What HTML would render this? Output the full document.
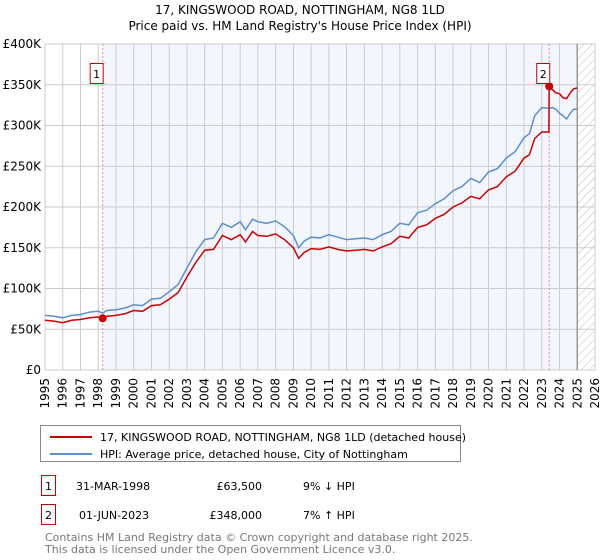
<!DOCTYPE html>
<html><head><meta charset="utf-8"><style>
body{margin:0;background:#fff;font-family:"DejaVu Sans","Liberation Sans",sans-serif;}
svg{display:block}
</style></head><body>
<svg width="600" height="560" xmlns="http://www.w3.org/2000/svg">
<defs><pattern id="hatch" width="6" height="6" patternUnits="userSpaceOnUse" patternTransform="rotate(45)"><line x1="0" y1="0" x2="0" y2="6" stroke="#bbb" stroke-width="1"/></pattern></defs>
<text x="300" y="14" text-anchor="middle" font-size="12">17, KINGSWOOD ROAD, NOTTINGHAM, NG8 1LD</text>
<text x="300" y="30" text-anchor="middle" font-size="12">Price paid vs. HM Land Registry's House Price Index (HPI)</text>
<g id="plot"></g>
<g>
<rect x="40.5" y="425.5" width="420" height="36" fill="#fff" stroke="#888"/>
<line x1="50" y1="437" x2="92" y2="437" stroke="#cc0000" stroke-width="2"/>
<text x="100" y="441" font-size="11">17, KINGSWOOD ROAD, NOTTINGHAM, NG8 1LD (detached house)</text>
<line x1="50" y1="454" x2="92" y2="454" stroke="#5b8fd0" stroke-width="2"/>
<text x="100" y="458" font-size="11">HPI: Average price, detached house, City of Nottingham</text>
</g>
<g font-size="11">
<rect x="41.5" y="475.5" width="14" height="20" fill="#fff" stroke="#cc0000"/>
<text x="48.5" y="490" text-anchor="middle">1</text>
<text x="76" y="490">31-MAR-1998</text>
<text x="262" y="490" text-anchor="end">£63,500</text>
<text x="303" y="490">9% ↓ HPI</text>
<rect x="41.5" y="504.5" width="14" height="20" fill="#fff" stroke="#cc0000"/>
<text x="48.5" y="519" text-anchor="middle">2</text>
<text x="79" y="519">01-JUN-2023</text>
<text x="262" y="519" text-anchor="end">£348,000</text>
<text x="303" y="519">7% ↑ HPI</text>
</g>
<text x="45" y="541" font-size="11" fill="#777">Contains HM Land Registry data © Crown copyright and database right 2025.</text>
<text x="45" y="553" font-size="11" fill="#777">This data is licensed under the Open Government Licence v3.0.</text>
</svg>
<script>
const years=[1995,1995.5,1996,1996.5,1997,1997.5,1998,1998.25,1998.5,1999,1999.5,2000,2000.5,2001,2001.5,2002,2002.5,2003,2003.5,2004,2004.5,2005,2005.5,2006,2006.3,2006.7,2007,2007.5,2008,2008.5,2009,2009.3,2009.6,2010,2010.5,2011,2011.5,2012,2012.5,2013,2013.5,2014,2014.5,2015,2015.5,2016,2016.5,2017,2017.5,2018,2018.5,2019,2019.5,2020,2020.5,2021,2021.5,2022,2022.3,2022.6,2023,2023.4];
const hpi=[67,66,64,67,68,71,72,70,73,74,76,80,79,87,88,96,105,125,145,160,162,180,175,182,172,185,182,180,183,176,165,150,158,163,162,166,163,160,161,162,160,166,170,180,178,193,196,204,210,220,225,235,230,243,247,260,268,285,290,312,322,321];
const paid=[61,60,58,61,62,64,65,63.5,66,67,69,73,72,79,80,87,95,114,132,147,148,165,160,166,157,170,165,164,167,160,150,137,144,149,148,151,148,146,147,148,146,151,155,164,162,175,178,186,191,200,205,213,210,221,225,237,244,260,264,284,292,292];
const afterYears=[2023.42,2023.6,2023.8,2024,2024.2,2024.4,2024.6,2024.8,2025];
const afterHpi=[321,322,320,315,312,308,315,320,320];
const afterPaid=[348,344,340,339,334,333,340,345,346];
const yTicks=[0,50,100,150,200,250,300,350,400];
const yLabels=["£0","£50K","£100K","£150K","£200K","£250K","£300K","£350K","£400K"];
const sales=[[1998.25,63.5,"1"],[2023.42,348,"2"]];
const X0=45,X1=595,Y0=370,Y1=44,ymin=1995,ymax=2026;
const xs=y=>X0+(y-ymin)/(ymax-ymin)*(X1-X0);
const ys=v=>Y0-v/400*(Y0-Y1);
const NS="http://www.w3.org/2000/svg";
const g=document.getElementById('plot');
function mk(t,a,p){const e=document.createElementNS(NS,t);for(const k in a)e.setAttribute(k,a[k]);(p||g).appendChild(e);return e;}
let r=mk('rect',{x:xs(1998.25),y:Y1,width:xs(2025)-xs(1998.25),height:Y0-Y1,fill:'#f3f6fd'});


r=mk('rect',{x:xs(2025),y:Y1,width:X1-xs(2025),height:Y0-Y1,fill:'url(#hatch)'});


for(let yr=1995;yr<=2026;yr++){
 const x=xs(yr);
 let l=mk('line',{x1:x,y1:Y1,x2:x,y2:Y0,stroke:'#ccc','stroke-width':1});
 
 
 let t=mk('text',{x:0,y:0,'font-size':12,'text-anchor':'end',transform:`translate(${x+4},${Y0+8}) rotate(-90)`});
 t.textContent=yr;
 
 
}
yTicks.forEach((v,i)=>{
 const y=ys(v);
 let l=mk('line',{x1:X0,y1:y,x2:X1,y2:y,stroke:'#ccc','stroke-width':1});
 
 
 let t=mk('text',{x:X0-4,y:y+4,'font-size':12,'text-anchor':'end'});
 t.textContent=yLabels[i];
 
 
});
let bd=mk('rect',{x:X0,y:Y1,width:X1-X0,height:Y0-Y1,fill:'none',stroke:'#ccc'});


let vl=mk('line',{x1:xs(2025),y1:Y1,x2:xs(2025),y2:Y0,stroke:'#999','stroke-width':1.5});


sales.forEach(s=>{
 let l=mk('line',{x1:xs(s[0]),y1:Y1,x2:xs(s[0]),y2:Y0,stroke:'#e88','stroke-width':1,'stroke-dasharray':'2,2'});
 
 
});
function path(xa,va){return xa.map((x,i)=>(i?'L':'M')+xs(x).toFixed(1)+','+ys(va[i]).toFixed(1)).join('');}
let hp=mk('path',{d:path(years.concat(afterYears),hpi.concat(afterHpi)),fill:'none',stroke:'#5b8fd0','stroke-width':1.5});


let pp=mk('path',{d:path(years.concat(afterYears),paid.concat(afterPaid)),fill:'none',stroke:'#cc0000','stroke-width':1.5});


sales.forEach(s=>{
 let c=mk('circle',{cx:xs(s[0]),cy:ys(s[1]),r:4,fill:'#cc0000'});
 
 
 const bx=xs(s[0])-13;
 let b=mk('rect',{x:bx+0.5,y:63.5,width:13,height:20,fill:'#fff',stroke:'#cc0000'});
 
 
 let t=mk('text',{x:bx+7,y:78,'font-size':11,'text-anchor':'middle'});
 t.textContent=s[2];
 
 
});
</script>
</body></html>
